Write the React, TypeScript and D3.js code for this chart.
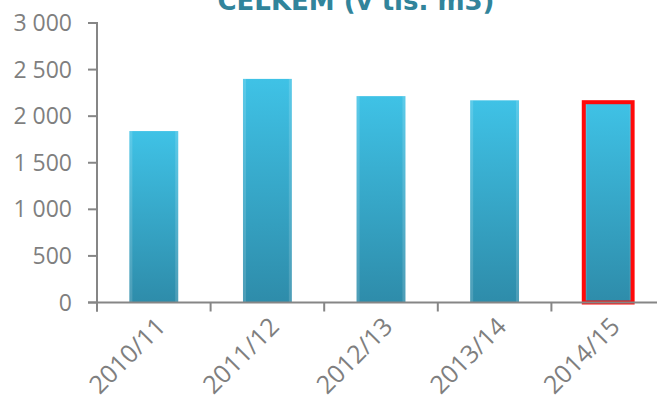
import React from "react";
import * as d3 from "d3";

const categories = ["2010/11", "2011/12", "2012/13", "2013/14", "2014/15"];
const values = [1840, 2400, 2215, 2170, 2150];
const yTicks = [0, 500, 1000, 1500, 2000, 2500, 3000];
const highlighted = ["2014/15"];
const title = "CELKEM (v tis. m3)";

const W = 657;
const H = 403;

export default function App() {
  const x = d3.scaleBand<string>().domain(categories).range([97, 665]).paddingInner(0.57).paddingOuter(0.285);
  const y = d3.scaleLinear().domain([0, 3000]).range([302.5, 23]);
  const locale = d3.formatLocale({ decimal: ",", thousands: " ", grouping: [3], currency: ["", " Kč"] });
  const fmt = locale.format(",d");
  const axisColor = "#868686";
  const font = "'Open Sans', sans-serif";
  const stepX = x.step();
  const boundaries = categories.map((c) => (x(c) as number) - (stepX - x.bandwidth()) / 2);

  return (
    <svg width={W} height={H} style={{ position: "absolute", left: 0, top: 0, background: "#fff" }}>
      <defs>
        <linearGradient id="barGrad" x1="0" y1="0" x2="0" y2="1">
          <stop offset="0" stopColor="#3fc2e6" />
          <stop offset="1" stopColor="#2e8caa" />
        </linearGradient>
      </defs>
      <text x={356} y={10} textAnchor="middle" fontFamily="'DejaVu Sans', Verdana, sans-serif" fontWeight="bold" fontSize={26} fill="#31849b">
        {title}
      </text>
      {categories.map((c, i) => {
        const bx = x(c) as number;
        const bw = x.bandwidth();
        const top = y(values[i]);
        const h = y(0) - top;
        const hl = highlighted.includes(c);
        return (
          <g key={c}>
            <rect x={bx} y={top} width={bw} height={h} fill="url(#barGrad)" />
            <rect x={bx} y={top} width={3} height={h} fill="#ffffff" opacity={0.15} />
            <rect x={bx + bw - 3} y={top} width={3} height={h} fill="#ffffff" opacity={0.15} />
            {hl && (
              <rect x={bx} y={top} width={bw} height={h} fill="none" stroke="#ff0a0a" strokeWidth={4} />
            )}
          </g>
        );
      })}
      {/* y axis */}
      <line x1={97} x2={97} y1={y(3000) - 1} y2={y(0) + 9} stroke={axisColor} strokeWidth={2} />
      {yTicks.map((t) => (
        <g key={t}>
          <line x1={88} x2={97} y1={y(t)} y2={y(t)} stroke={axisColor} strokeWidth={2} />
          <text x={72} y={y(t)} dy="0.35em" textAnchor="end" fontFamily={font} fontSize={23} fill="#7f7f7f">
            {fmt(t)}
          </text>
        </g>
      ))}
      {/* x axis */}
      <line x1={88} x2={W} y1={y(0)} y2={y(0)} stroke={axisColor} strokeWidth={2} />
      {boundaries.map((bx, i) => (
        <line key={i} x1={bx} x2={bx} y1={y(0)} y2={y(0) + 9} stroke={axisColor} strokeWidth={2} />
      ))}
      {categories.map((c) => {
        const cx = (x(c) as number) + x.bandwidth() / 2 + 7;
        return (
          <text
            key={c}
            transform={`translate(${cx},${322}) rotate(-45)`}
            textAnchor="end"
            dy="0.35em"
            fontFamily={font}
            fontSize={25}
            fill="#7f7f7f"
          >
            {c}
          </text>
        );
      })}
    </svg>
  );
}
